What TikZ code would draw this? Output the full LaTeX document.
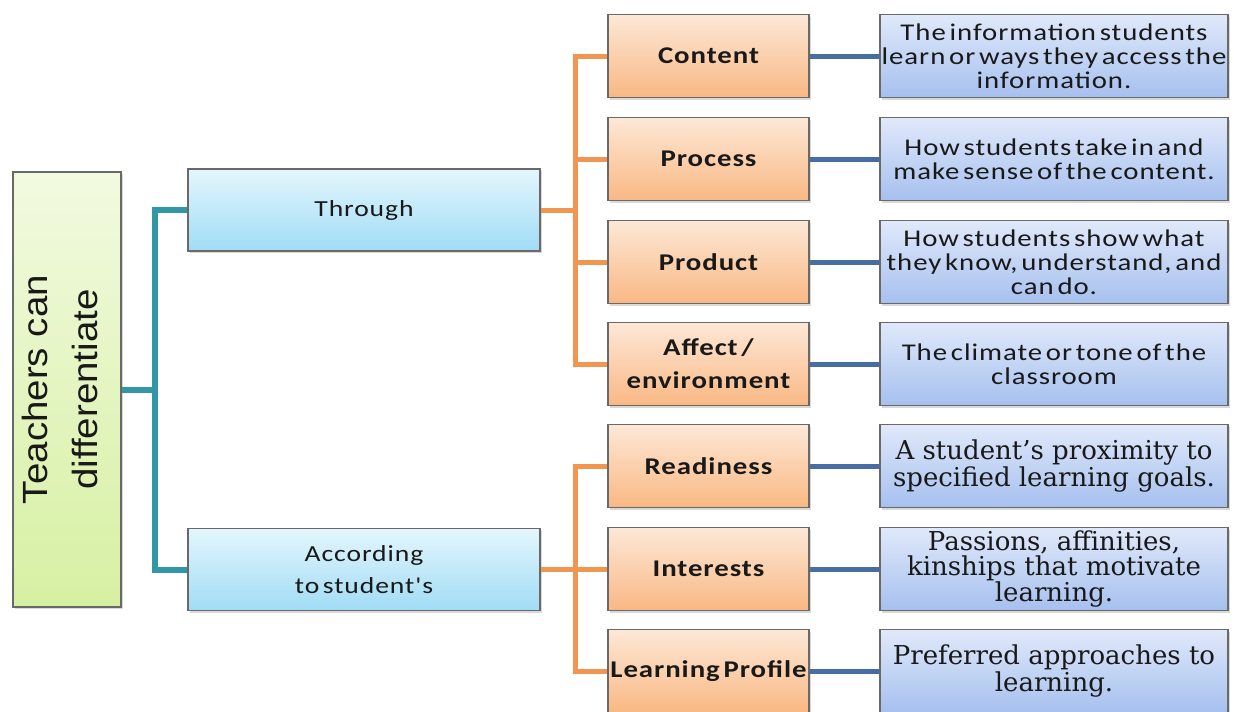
\documentclass[tikz,border=0pt]{standalone}
\usepackage{fontspec}
\usepackage{tikz}
\usetikzlibrary{shadows, positioning}

\newfontfamily\calfont[FakeStretch=1.2, LetterSpace=4, WordSpace=0.5]{Carlito}
\newfontfamily\arialfont[FakeStretch=1.1]{Liberation Sans}
\newfontfamily\slabfont{DejaVu Serif}

\definecolor{boxedge}{RGB}{105,105,105}
\definecolor{rootlight}{RGB}{242,250,224}
\definecolor{rootdark}{RGB}{214,240,162}
\definecolor{midtop}{RGB}{228,246,253}
\definecolor{midbot}{RGB}{160,220,245}
\definecolor{cattop}{RGB}{253,232,214}
\definecolor{catbot}{RGB}{249,184,132}
\definecolor{desctop}{RGB}{224,233,250}
\definecolor{descbot}{RGB}{166,192,238}
\definecolor{tealln}{RGB}{49,150,165}
\definecolor{orangeln}{RGB}{240,150,80}
\definecolor{blueln}{RGB}{70,110,165}

\begin{document}
\begin{tikzpicture}[x=1pt, y=-1pt,
    box/.style={draw=boxedge, line width=1.2pt, inner sep=0pt, align=center, text=black!90,
        drop shadow={shadow xshift=1.5pt, shadow yshift=-2pt, opacity=0.3}},
    rootbox/.style={box, rotate=90, minimum width=435pt, minimum height=108pt, text depth=14pt,
        top color=rootlight, bottom color=rootdark, font=\arialfont\fontsize{35}{50}\selectfont},
    midbox/.style={box, minimum width=352pt, minimum height=82pt,
        top color=midtop, bottom color=midbot, font=\calfont\fontsize{23}{32}\selectfont},
    catbox/.style={box, minimum width=201pt, minimum height=83pt,
        top color=cattop, bottom color=catbot, font=\calfont\bfseries\fontsize{24}{33}\selectfont},
    descbox/.style={box, minimum width=348pt, minimum height=83pt,
        top color=desctop, bottom color=descbot, font=\calfont\fontsize{24}{24}\selectfont},
    slabbox/.style={descbox, font=\slabfont\fontsize{26}{22}\selectfont},
    tealline/.style={draw=tealln, line width=6pt},
    orangeline/.style={draw=orangeln, line width=5pt},
    blueline/.style={draw=blueln, line width=5pt}]

    \useasboundingbox (0,0) rectangle (1234,712);

    % Root
    \node[rootbox] (root) at (67,389.5) {Teachers can\\differentiate};

    % Second level
    \node[midbox] (through) at (364,210) {Through};
    \node[midbox] (according) at (364,569.5) {According\\to student's};

    % Through: what is differentiated
    \node[catbox] (content) at (708.5,56) {Content};
    \node[catbox] (process) at (708.5,159) {Process};
    \node[catbox] (product) at (708.5,262) {Product};
    \node[catbox] (affect) at (708.5,364) {Affect /\\environment};

    % According to student's
    \node[catbox] (readiness) at (708.5,466) {Readiness};
    \node[catbox] (interests) at (708.5,569) {Interests};
    \node[catbox] (profile) at (708.5,671) {Learning Profile};

    % Descriptions
    \node[descbox] (contentd) at (1054,56) {The information students\\learn or ways they access the\\information.};
    \node[descbox] (processd) at (1054,159) {How students take in and\\make sense of the content.};
    \node[descbox] (productd) at (1054,262) {How students show what\\they know, understand, and\\can do.};
    \node[descbox] (affectd) at (1054,364) {The climate or tone of the\\classroom};
    \node[slabbox] (readinessd) at (1054,466) {A student’s proximity to\\specified learning goals.};
    \node[slabbox] (interestsd) at (1054,569) {Passions, affinities,\\kinships that motivate\\learning.};
    \node[slabbox] (profiled) at (1054,671) {Preferred approaches to\\learning.};

    % Connectors
    \coordinate (tj) at (155,389.5);
    \coordinate (oj1) at (575,210);
    \coordinate (oj2) at (575,569.5);

    \draw[tealline] (root.south) -- (tj);
    \draw[tealline] (through.west) -| (tj) |- (according.west);

    \draw[orangeline] (through.east) -- (oj1);
    \draw[orangeline] (oj1) |- (content.west);
    \draw[orangeline] (oj1) |- (process.west);
    \draw[orangeline] (oj1) |- (product.west);
    \draw[orangeline] (oj1) |- (affect.west);

    \draw[orangeline] (according.east) -- (oj2);
    \draw[orangeline] (oj2) |- (readiness.west);
    \draw[orangeline] (oj2) |- (interests.west);
    \draw[orangeline] (oj2) |- (profile.west);

    \foreach \n in {content, process, product, affect, readiness, interests, profile}
        \draw[blueline] (\n.east) -- (\n d.west);
\end{tikzpicture}
\end{document}
